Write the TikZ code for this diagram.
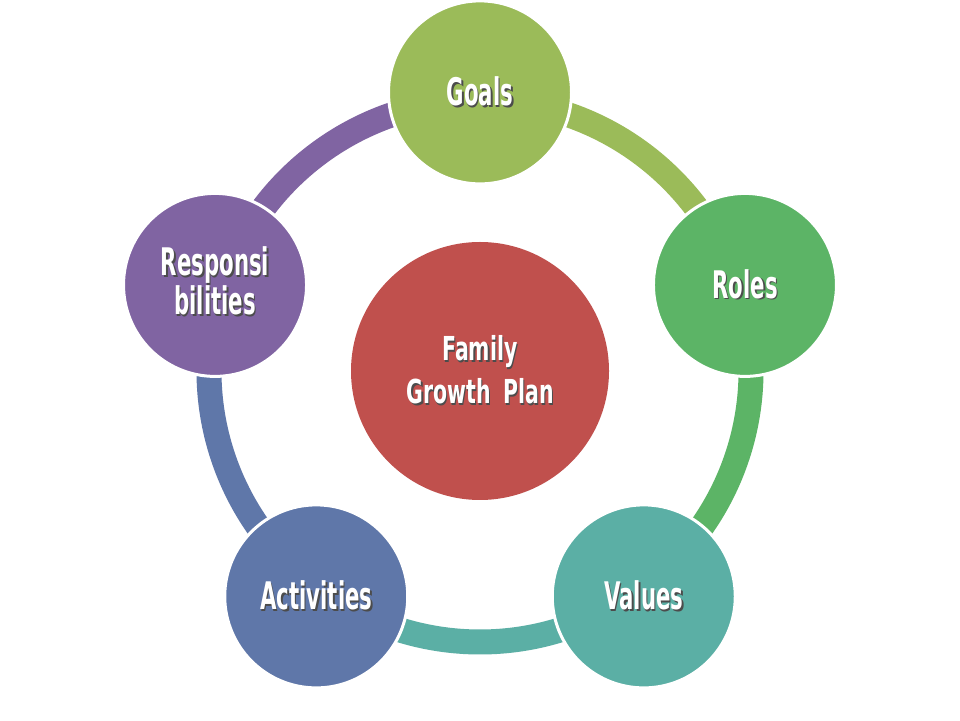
\documentclass[tikz,border=0pt]{standalone}
\usepackage{fontspec}
\newfontfamily\lblfont{DejaVu Sans}[FakeStretch=0.56]
\newfontfamily\clblfont{DejaVu Sans}[FakeStretch=0.62]
\definecolor{goalc}{HTML}{9BBB59}
\definecolor{rolec}{HTML}{5CB466}
\definecolor{valc}{HTML}{5BAFA5}
\definecolor{actc}{HTML}{5F77A9}
\definecolor{respc}{HTML}{8064A2}
\definecolor{centc}{HTML}{C0504D}
\newcommand\shtxt[1]{\makebox[0pt][l]{\hspace{1.6pt}\raisebox{-1.6pt}{\textcolor{black!70}{#1}}}#1}
\begin{document}
\begin{tikzpicture}[x=1pt,y=1pt,
  circ/.style={circle, inner sep=0pt, minimum size=183pt, draw=white, line width=3pt},
  lbl/.style={text=white, font=\lblfont\bfseries\fontsize{38}{36}\selectfont, align=center, inner sep=0pt},
  clbl/.style={lbl, font=\clblfont\bfseries\fontsize{33}{43}\selectfont},
  ringarc/.style={line width=25pt}]
\useasboundingbox (0,0) rectangle (960,720);
\fill[white] (0,0) rectangle (960,720);
\coordinate (C) at (480,349);
% ring arcs
\foreach \a/\b/\c in {90/18/goalc, 18/-54/rolec, -54/-126/valc, -126/-198/actc, 162/90/respc}{
  \coordinate (r\a) at ([shift={(\a:271)}]C);
  \draw[ringarc, \c] (r\a) arc[start angle=\a, end angle=\b, radius=271];
}
% outer circles
\node[circ, fill=goalc] (goals) at ([shift={(90:278.6)}]C) {};
\node[circ, fill=rolec] (roles) at ([shift={(18:278.6)}]C) {};
\node[circ, fill=valc] (values) at ([shift={(-54:278.6)}]C) {};
\node[circ, fill=actc] (acts) at ([shift={(-126:278.6)}]C) {};
\node[circ, fill=respc] (resp) at ([shift={(162:278.6)}]C) {};
% centre circle
\node[circle, inner sep=0pt, minimum size=258pt, fill=centc] (centre) at (C) {};
% labels (text with shadow)
\node[lbl] (goalst) at (goals) {\shtxt{Goals}};
\node[lbl] (rolest) at (roles) {\shtxt{Roles}};
\node[lbl] (valuest) at (values) {\shtxt{Values}};
\node[lbl] (actst) at (acts) {\shtxt{Activities}};
\node[lbl] (respt) at ([shift={(0,3)}]resp) {\shtxt{Responsi}\\\shtxt{bilities}};
\node[clbl] (centret) at (centre) {\shtxt{Family}\\\shtxt{Growth\ \,Plan}};
\end{tikzpicture}
\end{document}
